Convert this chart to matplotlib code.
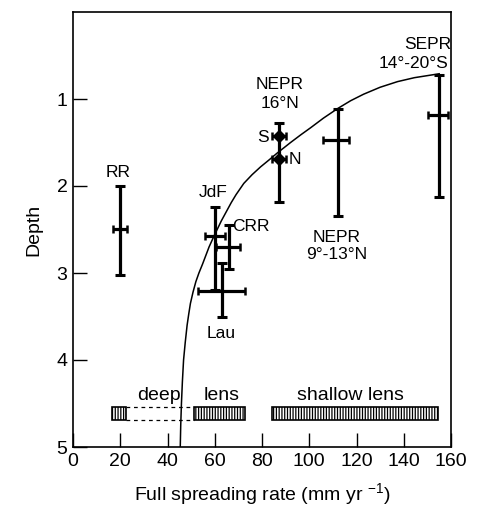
import matplotlib
matplotlib.use("Agg")
import matplotlib.pyplot as plt
from matplotlib.patches import Rectangle

plt.rcParams['font.family'] = ['Liberation Sans', 'DejaVu Sans']
plt.rcParams['mathtext.fontset'] = 'custom'
plt.rcParams['mathtext.rm'] = 'Liberation Sans'
plt.rcParams['mathtext.it'] = 'Liberation Sans'

# ---- data ----
sites = ['RR', 'JdF', 'CRR', 'Lau', 'NEPR 9-13N', 'SEPR']
rate = [20, 60, 65.5, 62.8, 111.5, 154.5]
rate_err = [3, 4.2, 5, 9.9, 5.5, 4.3]
depth = [2.49, 2.58, 2.70, 3.21, 1.47, 1.18]
depth_top = [2.0, 2.24, 2.45, 2.89, 1.11, 0.72]
depth_bot = [3.02, 3.2, 2.95, 3.5, 2.35, 2.13]
bar_x = [20, 60, 66, 63, 112, 155]

# NEPR 16N: one depth range, two points (S, N)
nepr16_rate = 87.1
nepr16_top, nepr16_bot = 1.28, 2.18
nepr16_pts_depth = [1.43, 1.69]
nepr16_rate_err = 3.0

# model curve
curve_rate = [45.4, 45.6, 45.9, 46.3, 46.8, 47.5, 48.3, 49.0, 49.7, 50.8,
              52.0, 53.3, 54.8, 56.2, 57.6, 59.6, 61.2, 62.8, 65.2, 67.0,
              69.0, 72.3, 75.8, 79.4, 83.0, 86.5, 92.1, 96.5, 100.6, 106.0,
              112.0, 117.5, 123.0, 130.0, 137.4, 144.5, 151.5, 155.0]
curve_depth = [5.0, 4.75, 4.5, 4.25, 4.0, 3.8, 3.6, 3.47, 3.35, 3.22,
               3.1, 3.0, 2.9, 2.8, 2.7, 2.58, 2.49, 2.4, 2.28, 2.19,
               2.1, 1.97, 1.87, 1.78, 1.7, 1.62, 1.5, 1.41, 1.33, 1.22,
               1.11, 1.02, 0.945, 0.865, 0.8, 0.755, 0.725, 0.71]

# lens regime bars
lens_bars = [(16.4, 22.5), (51.4, 72.6), (84.3, 154.4)]
lens_dash = (22.5, 51.4)

fig = plt.figure(figsize=(4.82, 5.14), dpi=100)
ax = fig.add_axes([73/482, 1-447/514, 378/482, 435/514])

ax.plot(curve_rate, curve_depth, color='black', lw=1.1, zorder=2,
        solid_joinstyle='round')

lw = 2.3
for i in range(len(sites)):
    ax.errorbar([bar_x[i]], [(depth_top[i]+depth_bot[i])/2],
                yerr=[[(depth_bot[i]-depth_top[i])/2]],
                fmt='none', ecolor='black', elinewidth=lw, capsize=3.3,
                capthick=2.2, zorder=3)
    ax.errorbar([rate[i]], [depth[i]], xerr=[[rate_err[i]]],
                fmt='none', ecolor='black', elinewidth=lw, capsize=3.0,
                capthick=1.8, zorder=3)

ax.errorbar([nepr16_rate], [(nepr16_top+nepr16_bot)/2],
            yerr=[[(nepr16_bot-nepr16_top)/2]], fmt='none', ecolor='black',
            elinewidth=lw, capsize=3.3, capthick=2.2, zorder=3)
for d in nepr16_pts_depth:
    ax.errorbar([nepr16_rate], [d], xerr=[[nepr16_rate_err]], fmt='D',
                color='black', ms=6, elinewidth=lw, capsize=3.0,
                capthick=1.8, zorder=4)

fs = 12.5
ax.text(19.1, 1.85, 'RR', ha='center', va='center', fontsize=fs)
ax.text(59.4, 2.08, 'JdF', ha='center', va='center', fontsize=fs)
ax.text(67.3, 2.47, 'CRR', ha='left', va='center', fontsize=fs)
ax.text(62.8, 3.69, 'Lau', ha='center', va='center', fontsize=fs)
ax.text(87.5, 0.83, 'NEPR', ha='center', va='center', fontsize=fs)
ax.text(87.5, 1.05, '16°N', ha='center', va='center', fontsize=fs)
ax.text(80.3, 1.44, 'S', ha='center', va='center', fontsize=fs)
ax.text(94.0, 1.69, 'N', ha='center', va='center', fontsize=fs)
ax.text(111.6, 2.59, 'NEPR', ha='center', va='center', fontsize=fs)
ax.text(111.6, 2.79, '9°-13°N', ha='center', va='center', fontsize=fs)
ax.text(150, 0.37, 'SEPR', ha='center', va='center', fontsize=fs)
ax.text(144, 0.59, '14°-20°S', ha='center', va='center', fontsize=fs)

ax.text(36.5, 4.41, 'deep', ha='center', va='center', fontsize=14)
ax.text(63, 4.41, 'lens', ha='center', va='center', fontsize=14)
ax.text(117.5, 4.41, 'shallow lens', ha='center', va='center', fontsize=14)

yc, h = 4.61, 0.075
plt.rcParams['hatch.linewidth'] = 0.9
for (a, b) in lens_bars:
    ax.add_patch(Rectangle((a, yc-h), b-a, 2*h, facecolor='white',
                           edgecolor='black', hatch='||||||', lw=1.2, zorder=3))
for yy in (yc-h, yc+h):
    ax.plot(list(lens_dash), [yy, yy], color='black', lw=0.9,
            ls=(0, (3, 3)), zorder=3)

ax.set_xlim(0, 160)
ax.set_ylim(5, 0)
ax.set_xticks([0, 20, 40, 60, 80, 100, 120, 140, 160])
ax.set_yticks([1, 2, 3, 4, 5])
ax.tick_params(direction='in', length=10, width=1, labelsize=14, pad=4)
for s in ax.spines.values():
    s.set_linewidth(1.2)

ax.set_xlabel('Full spreading rate (mm yr $^{-1}$)', fontsize=14, labelpad=8)
ax.set_ylabel('Depth', fontsize=14, labelpad=10)

fig.savefig('out.png', dpi=100)
